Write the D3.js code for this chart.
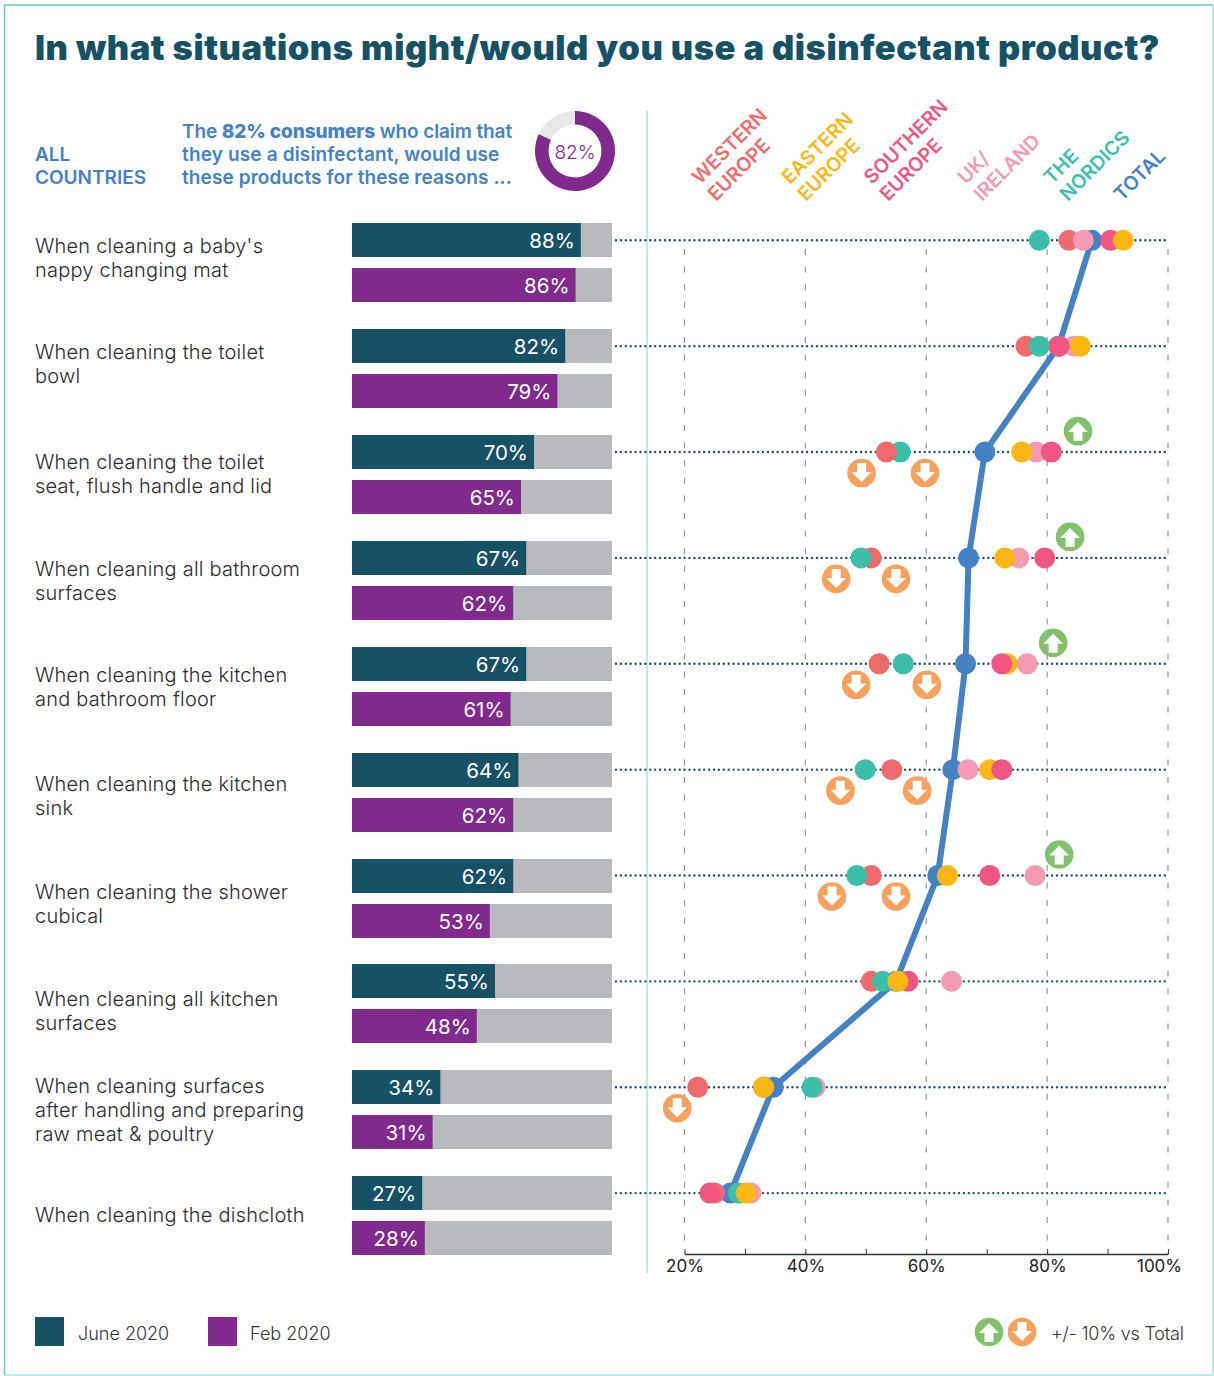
<!DOCTYPE html>
<html><head><meta charset="utf-8">
<script src="https://cdn.jsdelivr.net/npm/d3@7/dist/d3.min.js"></script>
<style>html,body{margin:0;padding:0;background:#fff}svg{display:block}text{font-family:Inter,sans-serif}</style>
</head><body><svg id="c" width="1214" height="1376"></svg>
<script>
const categories=[["When cleaning a baby's","nappy changing mat"],["When cleaning the toilet","bowl"],["When cleaning the toilet","seat, flush handle and lid"],["When cleaning all bathroom","surfaces"],["When cleaning the kitchen","and bathroom floor"],["When cleaning the kitchen","sink"],["When cleaning the shower","cubical"],["When cleaning all kitchen","surfaces"],["When cleaning surfaces","after handling and preparing","raw meat & poultry"],["When cleaning the dishcloth"]];
const june2020=[88,82,70,67,67,64,62,55,34,27];
const feb2020=[86,79,65,62,61,62,53,48,31,28];
const western=[83.6,76.5,53.4,50.9,52.2,54.3,50.9,50.9,22.2,25.0];
const eastern=[92.6,85.5,75.8,73.0,73.4,70.5,63.5,55.3,33.1,30.2];
const southern=[90.5,82.0,80.7,79.6,72.5,72.5,70.5,57.0,33.1,24.2];
const ukIreland=[86.0,84.4,78.2,75.3,76.7,66.9,78.0,64.2,41.6,31.0];
const nordics=[78.7,78.7,55.7,49.2,56.2,49.9,48.5,52.8,41.1,28.9];
const total=[87.4,81.9,69.7,67.0,66.5,64.4,61.9,55.0,34.7,27.6];
const arrowUpRow=[2,3,4,6];
const arrowUpValue=[85.1,83.8,81.0,82.0];
const arrowDownRow=[2,2,3,3,4,4,5,5,6,6,8];
const arrowDownValue=[49.3,59.8,45.1,55.0,48.4,60.1,45.8,58.5,44.4,55.0,18.8];
const raisedSeries=[null,null,"Western",null,"Southern","Southern",null,null,null,null];
const axisTicks=[20,30,40,50,60,70,80,90,100];
const titleText="In what situations might/would you use a disinfectant product?";

const BLUE="#4482c3",TEAL="#175164",PURPLE="#7f2a8c",GREY="#b9babd",GREEN="#82c06c",ORANGE="#f8a15c";
const series=[
 {name:"Total",lines:["TOTAL"],values:total,color:BLUE},
 {name:"Western",lines:["WESTERN","EUROPE"],values:western,color:"#ef6b6b"},
 {name:"UK",lines:["UK/","IRELAND"],values:ukIreland,color:"#f59ab3"},
 {name:"Nordics",lines:["THE","NORDICS"],values:nordics,color:"#3bbfa8"},
 {name:"Southern",lines:["SOUTHERN","EUROPE"],values:southern,color:"#f15582"},
 {name:"Eastern",lines:["EASTERN","EUROPE"],values:eastern,color:"#fdb714"}];
const headerX={Western:700,Eastern:790,Southern:872,UK:966,Nordics:1052,Total:1106};

const svg=d3.select("#c");
svg.append("path").attr("d","M4.5,1375 V5 H1213").attr("fill","none").attr("stroke","#62cbcb").attr("stroke-width",1.5);
svg.append("path").attr("d","M4.5,1375 H1213 V5").attr("fill","none").attr("stroke","#a9e2d9").attr("stroke-width",1.5);
svg.append("text").attr("x",35).attr("y",60).attr("font-size",34.5).attr("font-weight",900).attr("letter-spacing",0.55).attr("fill",TEAL).text(titleText);

const rows=d3.range(categories.length);
const y=d3.scalePoint().domain(rows).range([240.3,1193.1]);
const x=d3.scaleLinear().domain([20,100]).range([684.5,1168]);
const bar=d3.scaleLinear().domain([0,100]).range([352,612]);
const labelCentre=[258,364,474,581,687,796,903.5,1011,1110,1215];

// header block
const hdr=svg.append("g").attr("fill",BLUE).attr("font-size",19).attr("font-weight",600);
hdr.append("text").attr("x",35).attr("y",161).text("ALL");
hdr.append("text").attr("x",35).attr("y",184).text("COUNTRIES");
const intro=hdr.append("text").attr("x",182).attr("y",138).attr("letter-spacing",-0.1);
intro.append("tspan").text("The ");intro.append("tspan").attr("font-weight",800).text("82% consumers");intro.append("tspan").text(" who claim that");
hdr.append("text").attr("x",182).attr("y",161).attr("letter-spacing",0.15).text("they use a disinfectant, would use");
hdr.append("text").attr("x",182).attr("y",184).attr("letter-spacing",0.1).text("these products for these reasons ...");

// donut
const donutValue=82;
const arc=d3.arc().innerRadius(26.5).outerRadius(40);
const donut=svg.append("g").attr("transform","translate(575,151)");
donut.selectAll("path").data(d3.pie().sort(null)([donutValue,100-donutValue])).join("path").attr("d",arc).attr("fill",(d,i)=>i?"#e6e7e8":PURPLE);
donut.append("text").attr("text-anchor","middle").attr("y",8).attr("font-size",19).attr("font-weight",300).attr("fill",PURPLE).text(donutValue+"%");

// divider
svg.append("line").attr("x1",647).attr("x2",647).attr("y1",111).attr("y2",1273).attr("stroke","#a8e0e2").attr("stroke-width",1.5);

// labels
const lab=svg.append("g").attr("font-size",20).attr("font-weight",300).attr("letter-spacing",0.22).attr("fill","#2b2b2b");
categories.forEach((lines,i)=>{
  lines.forEach((t,j)=>lab.append("text").attr("x",35).attr("y",labelCentre[i]+7+(j-(lines.length-1)/2)*24).text(t));
});

// bars
const barH=34;
const barTop=(i,off)=>Math.round(y(i)+off);
const bars=svg.append("g");
[-17,28].forEach(off=>{
  rows.forEach(i=>bars.append("rect").attr("x",bar(0)).attr("y",barTop(i,off)).attr("width",bar(100)-bar(0)).attr("height",barH).attr("fill",GREY));
});
[[june2020,-17,TEAL],[feb2020,28,PURPLE]].forEach(([vals,off,col])=>{
  vals.forEach((v,i)=>{
    bars.append("rect").attr("x",bar(0)).attr("y",barTop(i,off)).attr("width",bar(v)-bar(0)).attr("height",barH).attr("fill",col);
    bars.append("text").attr("x",bar(v)-6).attr("y",barTop(i,off)+25).attr("text-anchor","end").attr("font-size",20.5).attr("font-weight",400).attr("fill","#fff").text(v+"%");
  });
});

// grid + axis
const plot=svg.append("g");
plot.selectAll("line.g").data([20,40,60,80,100]).join("line").attr("class","g").attr("x1",d=>x(d)).attr("x2",d=>x(d)).attr("y1",249).attr("y2",1254).attr("stroke","#949494").attr("stroke-width",1.2).attr("stroke-dasharray","6,11.6");
const axis=d3.axisBottom(x).tickValues(axisTicks).tickSize(-5).tickSizeOuter(0).tickPadding(6).tickFormat(d=>d%20===0?d+"%":"");
const ag=svg.append("g").attr("transform","translate(0,1254)").call(axis);
ag.select(".domain").attr("stroke","#333").attr("stroke-width",1.5);
ag.selectAll(".tick line").attr("stroke","#333");
ag.selectAll(".tick text").attr("font-family","Inter,sans-serif").attr("font-size",17).attr("font-weight",400).attr("fill","#222").attr("dx",d=>d===100?-9:0);

// dotted rows
plot.selectAll("line.d").data(rows).join("line").attr("class","d").attr("x1",616).attr("x2",1168).attr("y1",i=>y(i)).attr("y2",i=>y(i)).attr("stroke",TEAL).attr("stroke-width",2.4).attr("stroke-linecap","round").attr("stroke-dasharray","0,4.9");

// total line
svg.append("path").attr("d",d3.line().x(d=>x(d)).y((d,i)=>y(i))(total)).attr("fill","none").attr("stroke",BLUE).attr("stroke-width",6);

// dots
rows.forEach(i=>{
  const order=series.slice();
  if(raisedSeries[i]) order.sort((a,b)=>(a.name===raisedSeries[i])-(b.name===raisedSeries[i]));
  order.forEach(s=>svg.append("circle").attr("cx",x(s.values[i])).attr("cy",y(i)).attr("r",10.5).attr("fill",s.color));
});

// arrows
const arrowPath="M0,-9 L10,1 L4.5,1 L4.5,10 L-4.5,10 L-4.5,1 L-10,1 Z";
function badge(g,cx,cy,up){
  const b=g.append("g").attr("transform",`translate(${cx},${cy})`);
  b.append("circle").attr("r",14.3).attr("fill",up?GREEN:ORANGE);
  b.append("path").attr("d",arrowPath).attr("fill","#fff").attr("transform",up?null:"rotate(180)");
}
arrowUpRow.forEach((r,k)=>badge(svg,x(arrowUpValue[k]),y(r)-21,true));
arrowDownRow.forEach((r,k)=>badge(svg,x(arrowDownValue[k]),y(r)+21,false));

// rotated headers
series.forEach(s=>{
  s.lines.forEach((t,j)=>{
    const first=s.lines.length===1?1:j;
    svg.append("text").attr("transform",`translate(${headerX[s.name]+first*16},${185+first*17}) rotate(-45)`).attr("font-size",19.5).attr("font-weight",600).attr("fill",s.color).text(t);
  });
});

// legends
const leg=svg.append("g").attr("font-size",18).attr("font-weight",300).attr("fill","#333");
[[35,78,TEAL,"June 2020"],[208,250,PURPLE,"Feb 2020"]].forEach(([rx,tx,c,t])=>{
  leg.append("rect").attr("x",rx).attr("y",1317).attr("width",29).attr("height",29).attr("fill",c);
  leg.append("text").attr("x",tx).attr("y",1340).text(t);
});
badge(svg,989,1332,true);badge(svg,1022,1332,false);
leg.append("text").attr("x",1051).attr("y",1340).attr("letter-spacing",-0.2).text("+/- 10% vs Total");
</script></body></html>
